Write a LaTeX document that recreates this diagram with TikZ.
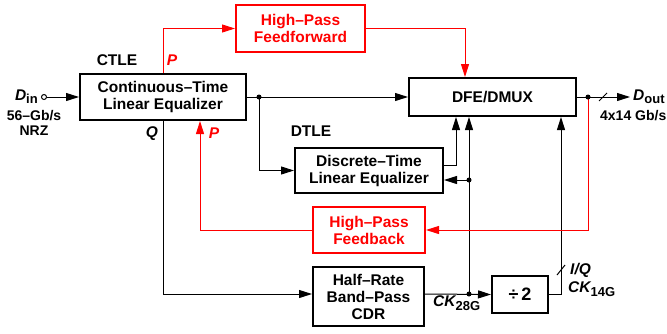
\documentclass[tikz,border=0pt]{standalone}
\usepackage{fontspec}
\setmainfont{Liberation Sans}
\usetikzlibrary{arrows.meta,calc}
\definecolor{hpred}{RGB}{255,0,0}
\begin{document}
\begin{tikzpicture}[x=1pt,y=-1pt,
  blk/.style={draw,line width=2pt,minimum width=#1,inner sep=0pt,align=center,font=\fontsize{15.5}{17}\selectfont\bfseries},
  redblk/.style={blk=#1,draw=hpred,text=hpred},
  wire/.style={line width=1pt},
  arr/.style={wire,-{Triangle[length=13pt,width=8pt]}},
  rarr/.style={wire,draw=hpred,-{Triangle[length=13pt,width=8pt,fill=hpred]}},
  lbl/.style={font=\fontsize{15.5}{17}\selectfont\bfseries,inner sep=0pt},
  slbl/.style={font=\fontsize{14}{15}\selectfont\bfseries,inner sep=0pt,align=center},
  dotc/.style={circle,fill,inner sep=0pt,minimum size=5pt},
  slashs/.style={wire}
]
\useasboundingbox (0,0) rectangle (667,333);

% blocks
\node[blk=166pt,minimum height=46pt] (ctle) at (163,97) {Continuous–Time\\Linear Equalizer};
\node[redblk=129pt,minimum height=47pt] (hpff) at (300.5,28.5) {High–Pass\\Feedforward};
\node[blk=167pt,minimum height=38pt] (dfe) at (492.5,97) {DFE/DMUX};
\node[blk=148pt,minimum height=45pt] (dtle) at (369,170.5) {Discrete–Time\\Linear Equalizer};
\node[redblk=112pt,minimum height=46pt] (hpfb) at (369,230) {High–Pass\\Feedback};
\node[blk=111pt,minimum height=59pt] (cdr) at (368.5,296.5) {Half–Rate\\Band–Pass\\CDR};
\node[blk=56pt,minimum height=37pt] (div) at (520,294.5) {\fontsize{18}{18}\selectfont÷\,2};

% labels
\node[lbl] (lctle) at (117,60) {CTLE};
\node[lbl,text=hpred] (lp1) at (172,60) {\itshape P};
\node[lbl] (lq) at (152,134) {\itshape Q};
\node[lbl,text=hpred] (lp2) at (214,133) {\itshape P};
\node[lbl] (ldtle) at (311,131) {DTLE};
\node[lbl,anchor=east] (din) at (38,97) {\itshape D\upshape\fontsize{13}{14}\selectfont\raisebox{-3pt}{in}};
\node[slbl] (rate) at (34,123) {56–Gb/s\\NRZ};
\node[lbl,anchor=west] (dout) at (633,97) {\itshape D\upshape\fontsize{13}{14}\selectfont\raisebox{-3pt}{out}};
\node[slbl,anchor=east] (orate) at (666.5,116) {4x14 Gb/s};
\node[lbl,anchor=west] (ck28) at (433,303) {\itshape CK\upshape\fontsize{13}{14}\selectfont\raisebox{-4pt}{28G}};
\node[lbl,anchor=west] (ck14) at (568,289) {\itshape CK\upshape\fontsize{13}{14}\selectfont\raisebox{-4pt}{14G}};
\node[lbl,anchor=west] (iq) at (570,270) {\itshape I/Q};

% coordinates
\coordinate (dinc) at (44,97);
\coordinate (d1) at (259,97);
\coordinate (d2) at (469,180);
\coordinate (d3) at (469,294);
\coordinate (d4) at (588,97);
\coordinate (outend) at (630,97);

% input
\draw[wire] (dinc) circle (2.5pt);
\draw[arr] ($(dinc)+(2.5,0)$) -- (ctle.west);

% CTLE -> DFE, DTLE
\draw[arr] (ctle.east) -- (dfe.west);
\node[dotc] (n1) at (d1) {};
\draw[arr] (n1.center) |- (dtle.west);

% feedforward (red)
\draw[rarr] (ctle.north) |- (hpff.west);
\draw[rarr] (hpff.east) -| (dfe.north -| 465,0);

% DTLE -> DFE
\draw[arr] (dtle.east |- 0,165) -| (dfe.south -| 456,0);

% CK28G
\draw[arr] (cdr.east |- d3) -- (div.west);
\node[dotc] (n3) at (d3) {};
\node[dotc] (n2) at (d2) {};
\draw[arr] (n3.center) -- (dfe.south -| d3);
\draw[arr] (n2.center) -- (dtle.east |- d2);

% CK14G
\draw[arr] (div.east) -| (dfe.south -| 561,0);
\draw[slashs] (557,275) -- (565,265);

% Q path
\draw[arr] (ctle.south -| 163,0) |- (cdr.west |- d3);

% output
\draw[arr] (dfe.east) -- (outend);
\draw[slashs] (599,101) -- (607,93);
\draw[rarr] (d4) |- (hpfb.east);
\node[dotc] (n4) at (d4) {};

% feedback (red)
\draw[rarr] (hpfb.west) -| (ctle.south -| 200,0);
\end{tikzpicture}
\end{document}
